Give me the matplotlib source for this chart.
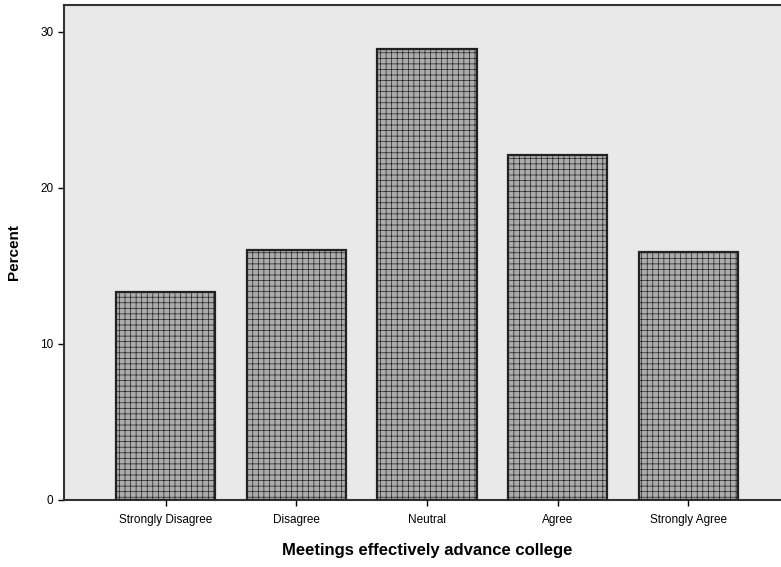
import matplotlib.pyplot as plt
import numpy as np

categories = ['Strongly Disagree', 'Disagree', 'Neutral', 'Agree', 'Strongly Agree']
percent = [13.3, 16.0, 28.9, 22.1, 15.9]
yticks = [0, 10, 20, 30]

plt.rcParams['font.family'] = ['Liberation Sans', 'DejaVu Sans']
plt.rcParams['hatch.color'] = '#8c8c8c'
plt.rcParams['hatch.linewidth'] = 0.5

fig = plt.figure(figsize=(7.81, 5.67), dpi=100, facecolor='w')
# axes runs slightly past the right edge of the scan
ax = fig.add_axes([64/781, 67/567, 726/781, 495/567])
ax.set_facecolor('#e9e9e9')

x = np.arange(len(categories))
ax.bar(x, percent, width=0.76, color='#acacac', edgecolor='#222222', linewidth=1.6,
       hatch='+++', zorder=3)

ax.set_xlim(-0.78, 4.78)
ax.set_ylim(0, 31.7)
ax.set_yticks(yticks)
ax.set_xticks(x)
ax.set_xticklabels(categories, fontsize=8.5)
ax.tick_params(axis='y', labelsize=8.5, length=4, width=1)
ax.tick_params(axis='x', length=4, width=1, pad=6)

for side in ['left', 'bottom', 'top']:
    ax.spines[side].set_linewidth(1.5)
    ax.spines[side].set_color('#333333')
ax.spines['right'].set_visible(False)

ax.set_ylabel('Percent', fontsize=11, fontweight='bold', labelpad=14)
fig.text(427/781, 1 - 550/567, 'Meetings effectively advance college', fontsize=12,
         fontweight='bold', ha='center', va='center')

fig.savefig('out.png', dpi=100)
